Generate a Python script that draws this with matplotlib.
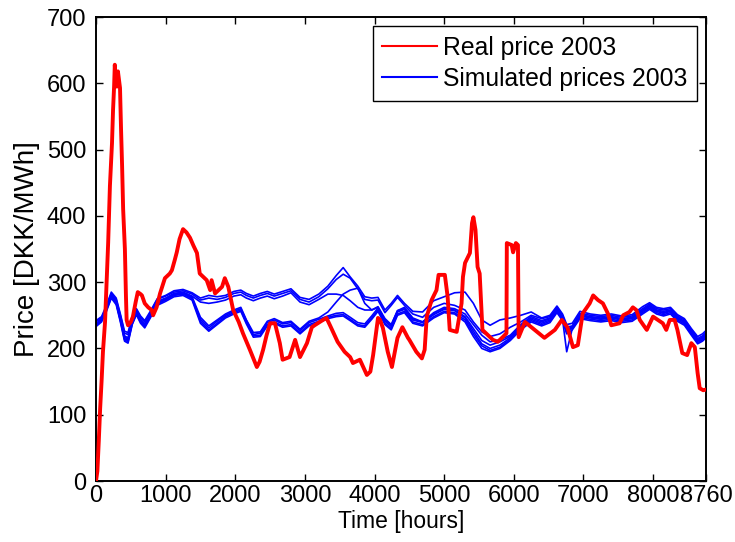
import numpy as np
import matplotlib.pyplot as plt

plt.rcParams['font.family'] = ['Liberation Sans', 'DejaVu Sans']
plt.rcParams['font.size'] = 17

# real spot price 2003 (hours, DKK/MWh)
real_hours = [0, 20, 40, 60, 80, 100, 130, 160, 175, 200, 230, 245, 260, 270, 285, 300,
              315, 345, 360, 375, 390, 415, 430, 440, 460, 500, 530, 570, 600, 640, 660,
              700, 750, 800, 820, 870, 920, 990, 1060, 1090, 1130, 1160, 1200, 1250, 1300,
              1350, 1400, 1450, 1490, 1590, 1640, 1660, 1710, 1810, 1850, 1900, 1970, 2050,
              2110, 2210, 2310, 2350, 2400, 2450, 2500, 2570, 2640, 2680, 2780, 2860, 2930,
              3030, 3100, 3140, 3260, 3310, 3360, 3470, 3570, 3650, 3690, 3790, 3890, 3940,
              3980, 4050, 4080, 4120, 4190, 4250, 4330, 4400, 4480, 4500, 4600, 4680, 4720,
              4750, 4820, 4890, 4920, 5010, 5050, 5080, 5180, 5250, 5270, 5300, 5370, 5400,
              5420, 5450, 5480, 5510, 5550, 5700, 5770, 5840, 5895, 5900, 5970, 5990, 6030,
              6060, 6070, 6160, 6300, 6440, 6590, 6690, 6770, 6850, 6920, 6990, 7090, 7140,
              7210, 7280, 7350, 7400, 7520, 7570, 7660, 7710, 7760, 7810, 7910, 8000, 8070,
              8140, 8190, 8240, 8310, 8350, 8420, 8490, 8550, 8600, 8640, 8670, 8720, 8760]
real_price = [0, 15, 60, 110, 150, 195, 240, 320, 360, 445, 510, 560, 595, 628, 600, 595,
              618, 593, 530, 475, 410, 350, 280, 243, 235, 240, 248, 270, 285, 282, 280,
              268, 262, 258, 250, 262, 283, 306, 313, 318, 333, 345, 365, 380, 375,
              367, 355, 344, 313, 303, 288, 303, 283, 293, 306, 293, 258, 240,
              223, 198, 172, 180, 198, 220, 238, 238, 208, 183, 187, 213, 187,
              208, 232, 235, 243, 246, 235, 210, 195, 187, 178, 183, 160, 165,
              190, 246, 243, 231, 195, 172, 216, 232, 216, 213, 195, 185, 198,
              248, 273, 288, 311, 311, 278, 228, 225, 268, 308, 329, 344, 389,
              398, 379, 323, 313, 228, 213, 210, 217, 223, 359, 356, 345, 359,
              356, 217, 240, 228, 216, 228, 243, 232, 202, 205, 253, 268, 280,
              273, 268, 253, 235, 238, 250, 255, 262, 258, 243, 228, 248, 243,
              238, 228, 243, 243, 228, 193, 190, 208, 202, 163, 140, 137, 138]

# simulated price paths, all on the same time grid
sim_hours = [0, 80, 150, 220, 290, 350, 410, 460, 520, 580, 640, 700, 780, 880, 1000, 1120,
             1250, 1380, 1500, 1620, 1740, 1860, 1980, 2080, 2160, 2260, 2360, 2460, 2560,
             2680, 2800, 2930, 3060, 3200, 3330, 3450, 3550, 3650, 3760, 3860, 3960, 4050,
             4150, 4240, 4330, 4430, 4550, 4690, 4850, 5000, 5150, 5300, 5420, 5540, 5660,
             5800, 5950, 6100, 6250, 6400, 6520, 6620, 6700, 6760, 6840, 6950, 7100, 7250,
             7400, 7550, 7700, 7850, 7950, 8050, 8150, 8250, 8350, 8450, 8550, 8640, 8710, 8760]

sim_1 = [242, 248, 265, 285, 276, 252, 226, 224, 248, 260, 249, 242, 256, 275, 280, 287, 289, 284,
         276, 280, 278, 280, 286, 288, 283, 279, 283, 286, 282, 286, 290, 277, 274, 282, 294, 310,
         322, 308, 294, 278, 276, 277, 258, 268, 280, 268, 256, 255, 272, 278, 284, 285, 268, 243,
         235, 243, 246, 250, 255, 246, 250, 264, 252, 236, 238, 256, 252, 250, 252, 249, 251, 263,
         269, 262, 260, 262, 251, 245, 230, 218, 222, 227]
sim_2 = [240, 246, 263, 283, 274, 250, 223, 221, 246, 259, 247, 240, 254, 274, 279, 285, 287, 282,
         273, 276, 274, 277, 283, 285, 280, 276, 280, 283, 279, 283, 287, 274, 270, 278, 290, 304,
         312, 306, 290, 274, 272, 273, 254, 265, 277, 265, 252, 247, 262, 268, 265, 258, 240, 225,
         218, 222, 232, 240, 250, 245, 248, 262, 250, 232, 234, 253, 250, 248, 250, 247, 249, 260,
         267, 260, 258, 260, 249, 243, 228, 215, 219, 224]
sim_3 = [236, 244, 261, 281, 271, 247, 219, 216, 242, 256, 244, 237, 251, 271, 276, 283, 285, 279,
         270, 268, 270, 273, 279, 281, 276, 272, 276, 279, 275, 279, 284, 270, 266, 274, 282, 282,
         280, 272, 262, 258, 258, 263, 245, 236, 257, 262, 246, 240, 254, 262, 260, 252, 236, 220,
         210, 213, 220, 236, 248, 242, 246, 260, 248, 228, 233, 251, 248, 246, 248, 245, 247, 258,
         265, 258, 256, 258, 247, 241, 226, 213, 217, 222]
sim_4 = [234, 243, 259, 280, 270, 245, 217, 214, 240, 255, 243, 236, 250, 270, 275, 282, 284, 278,
         247, 234, 243, 252, 258, 262, 243, 224, 225, 241, 245, 239, 241, 229, 241, 246, 255, 270,
         282, 288, 291, 268, 258, 262, 243, 235, 257, 260, 244, 240, 252, 260, 258, 248, 230, 212,
         205, 210, 218, 234, 246, 240, 245, 259, 247, 226, 232, 250, 247, 245, 247, 244, 246, 257,
         264, 257, 254, 257, 246, 240, 225, 212, 216, 221]
sim_5 = [237, 244, 260, 279, 269, 244, 215, 212, 239, 254, 242, 235, 249, 269, 274, 281, 283, 276,
         244, 231, 241, 250, 256, 260, 242, 221, 223, 239, 243, 237, 239, 227, 239, 244, 249, 253,
         254, 247, 239, 237, 249, 261, 241, 233, 255, 259, 243, 239, 251, 259, 257, 246, 226, 207,
         200, 205, 216, 232, 244, 238, 243, 258, 246, 224, 232, 249, 246, 244, 246, 243, 245, 256,
         263, 256, 253, 256, 245, 239, 224, 211, 215, 220]
sim_6 = [235, 242, 258, 277, 268, 242, 213, 210, 237, 252, 240, 233, 248, 267, 273, 280, 282, 275,
         241, 228, 238, 248, 254, 258, 239, 219, 220, 236, 240, 234, 236, 224, 236, 241, 247, 250,
         251, 244, 236, 234, 246, 258, 238, 230, 252, 256, 240, 236, 248, 256, 254, 243, 222, 204,
         197, 202, 214, 230, 242, 236, 241, 256, 244, 195, 230, 247, 244, 242, 244, 241, 243, 254,
         261, 254, 251, 254, 243, 237, 222, 209, 213, 218]
sim_7 = [233, 240, 256, 276, 266, 240, 211, 208, 236, 251, 238, 231, 246, 265, 271, 278, 280, 273,
         238, 226, 236, 246, 252, 256, 237, 217, 218, 234, 238, 232, 234, 222, 234, 239, 245, 248,
         249, 242, 234, 232, 244, 256, 236, 228, 250, 254, 238, 234, 246, 254, 252, 240, 218, 200,
         195, 200, 212, 228, 240, 234, 239, 254, 242, 222, 228, 245, 242, 240, 242, 239, 241, 252,
         259, 252, 249, 252, 241, 235, 220, 207, 211, 216]

x_ticks = [0, 1000, 2000, 3000, 4000, 5000, 6000, 7000, 8000, 8760]

fig = plt.figure(figsize=(7.35, 5.42), dpi=100)
ax = fig.add_axes([0.1306, 0.1125, 0.8299, 0.8561])

ax.plot(real_hours, real_price, color='red', lw=2.8, label='Real price 2003', zorder=3)
sims = [sim_1, sim_2, sim_3, sim_4, sim_5, sim_6, sim_7]
for i, s in enumerate(sims):
    ax.plot(sim_hours, s, color='blue', lw=1.2, zorder=2,
            label='Simulated prices 2003' if i == 0 else None)

ax.set_xlim(0, 8760)
ax.set_ylim(0, 700)
ax.set_xticks(x_ticks)
ax.set_yticks(np.arange(0, 701, 100))
ax.tick_params(direction='in', top=True, right=True, length=5, width=1)
ax.tick_params(axis='x', pad=3)
ax.tick_params(axis='y', pad=7)
for sp in ax.spines.values():
    sp.set_linewidth(1.4)

ax.set_xlabel('Time [hours]', fontsize=16.5, labelpad=2)
ax.set_ylabel('Price [DKK/MWh]', fontsize=20, labelpad=5)

leg = ax.legend(loc='upper right', fancybox=False, edgecolor='black', framealpha=1,
                prop={'size': 17.8}, handlelength=2.2, borderaxespad=0.35,
                handletextpad=0.25, borderpad=0.4, labelspacing=0.3)
leg.get_frame().set_linewidth(1.0)
for line in leg.get_lines():
    line.set_linewidth(1.5)

fig.savefig('out.png', dpi=100)
